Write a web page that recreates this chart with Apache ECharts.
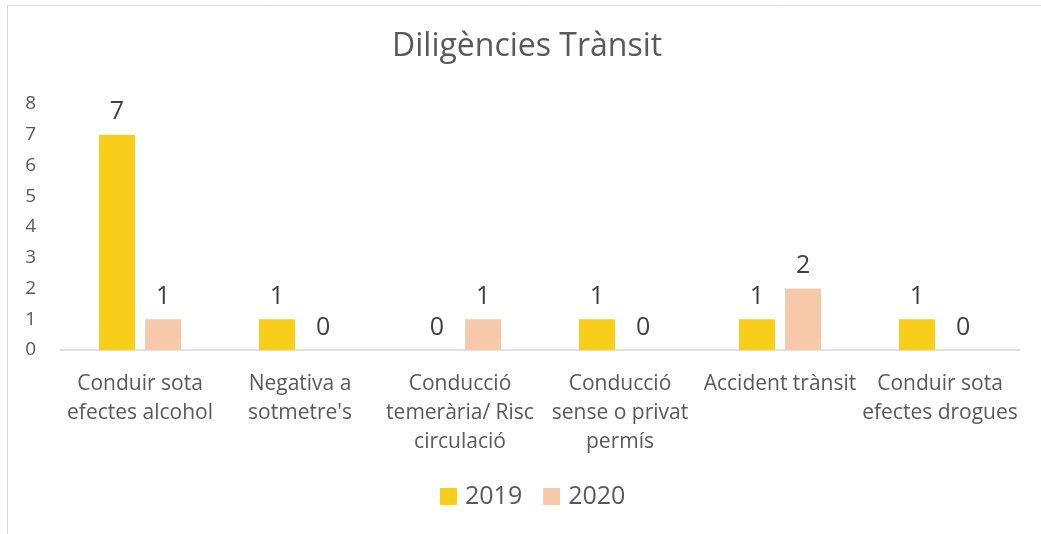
<!DOCTYPE html>
<html>
<head>
<meta charset="utf-8">
<script src="https://cdn.jsdelivr.net/npm/echarts@6/dist/echarts.min.js"></script>
<style>
  html, body { margin: 0; padding: 0; background: #fff; }
  #chart { width: 1041px; height: 534px; }
</style>
</head>
<body>
<div id="chart"></div>
<script>
var categories = [
    'Conduir sota\nefectes alcohol',
    'Negativa a\nsotmetre\'s',
    'Conducció\ntemerària/ Risc\ncirculació',
    'Conducció\nsense o privat\npermís',
    'Accident trànsit',
    'Conduir sota\nefectes drogues'
];
var values2019 = [7, 1, 0, 1, 1, 1];
var values2020 = [1, 0, 1, 0, 2, 0];
var yTicks = [0, 1, 2, 3, 4, 5, 6, 7, 8];

var textColor = '#595959';
var fontName = 'Open Sans';

var myChart = echarts.init(document.getElementById('chart'));

var option = {
    textStyle: { fontFamily: fontName },
    graphic: [{
        type: 'rect',
        shape: { x: 7.5, y: 5.5, width: 1040, height: 540 },
        style: { fill: 'none', stroke: '#d9d9d9', lineWidth: 1 },
        silent: true
    }],
    title: {
        text: 'Diligències Trànsit',
        left: 392,
        top: 31,
        padding: 0,
        textStyle: { color: textColor, fontSize: 32, fontWeight: 'normal', fontFamily: fontName }
    },
    legend: {
        data: ['2019', '2020'],
        bottom: 20,
        left: 435,
        itemWidth: 17,
        itemHeight: 17,
        itemGap: 21,
        icon: 'rect',
        textStyle: { color: textColor, fontSize: 25, fontFamily: fontName, padding: [0, 0, 0, 3] }
    },
    grid: {
        left: 60,
        right: 21,
        top: 104,
        bottom: 184
    },
    xAxis: {
        type: 'category',
        data: categories,
        axisLine: { lineStyle: { color: '#d9d9d9', width: 1.5 } },
        axisTick: { show: false },
        axisLabel: {
            color: textColor,
            fontSize: 21,
            lineHeight: 29,
            margin: 20,
            interval: 0,
            fontFamily: fontName
        }
    },
    yAxis: {
        type: 'value',
        min: yTicks[0],
        max: yTicks[yTicks.length - 1],
        interval: 1,
        splitLine: { show: false },
        axisLine: { show: false },
        axisTick: { show: false },
        axisLabel: { color: textColor, fontSize: 19, margin: 24, fontFamily: fontName }
    },
    series: [{
        name: '2019',
        type: 'bar',
        data: values2019,
        barWidth: 36,
        barGap: '28%',
        itemStyle: { color: '#F9CE1A' },
        label: {
            show: true,
            position: 'top',
            distance: 10,
            color: '#404040',
            fontSize: 25,
            fontFamily: fontName
        }
    }, {
        name: '2020',
        type: 'bar',
        data: values2020,
        barWidth: 36,
        itemStyle: { color: '#F7C9AB' },
        label: {
            show: true,
            position: 'top',
            distance: 10,
            color: '#404040',
            fontSize: 25,
            fontFamily: fontName
        }
    }]
};

myChart.setOption(option);
</script>
</body>
</html>
